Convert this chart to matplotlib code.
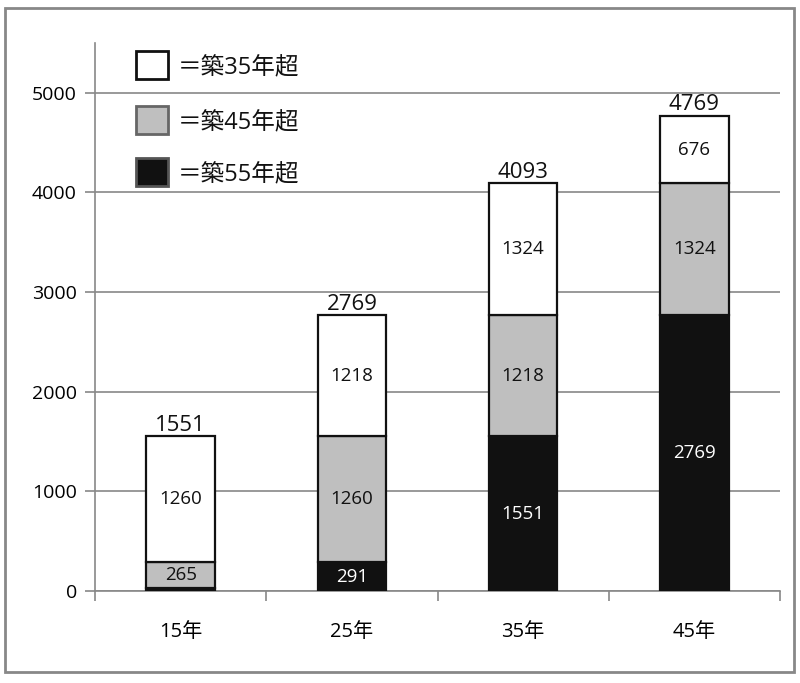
import matplotlib
matplotlib.use("Agg")
import matplotlib.pyplot as plt
from matplotlib.patches import Rectangle

plt.rcParams['font.family'] = ['Open Sans', 'Noto Sans CJK JP', 'DejaVu Sans']

categories = ['15年', '25年', '35年', '45年']
over55 = [26, 291, 1551, 2769]
over45 = [265, 1260, 1218, 1324]
over35 = [1260, 1218, 1324, 676]
totals = [1551, 2769, 4093, 4769]
legend_labels = ['＝築35年超', '＝築45年超', '＝築55年超']
seg_labels55 = ['', '291', '1551', '2769']

fig = plt.figure(figsize=(8.0, 6.83), dpi=100)
ax = fig.add_axes([95/800, 1-591/683, 685/800, (591-43)/683])

x = list(range(len(categories)))
w = 0.4
lw = 1.6
ax.bar(x, over55, w, color='#111111', edgecolor='#111111', linewidth=lw, zorder=3)
b45 = [a for a in over55]
ax.bar(x, over45, w, bottom=b45, color='#bfbfbf', edgecolor='#111111', linewidth=lw, zorder=3)
b35 = [a + b for a, b in zip(over55, over45)]
ax.bar(x, over35, w, bottom=b35, color='white', edgecolor='#111111', linewidth=lw, zorder=3)

fs = 13.5
for i in x:
    if seg_labels55[i]:
        ax.text(i, over55[i] / 2, seg_labels55[i], ha='center', va='center', color='white', fontsize=fs, zorder=4)
    ax.text(i, b45[i] + over45[i] / 2, str(over45[i]), ha='center', va='center', color='#111111', fontsize=fs, zorder=4)
    ax.text(i, b35[i] + over35[i] / 2, str(over35[i]), ha='center', va='center', color='#111111', fontsize=fs, zorder=4)
    ax.text(i, totals[i] + 5, str(totals[i]), ha='center', va='bottom', color='#111111', fontsize=16, zorder=4)

ax.set_xlim(-0.5, len(categories) - 0.5)
ax.set_ylim(0, 5500)
ax.set_yticks([0, 1000, 2000, 3000, 4000, 5000])
ax.set_xticks(x)
ax.set_xticklabels(categories, fontsize=14.5)
ax.set_xticks([-0.5, 0.5, 1.5, 2.5, 3.5], minor=True)
ax.tick_params(axis='x', which='major', length=0, pad=22)
ax.tick_params(axis='x', which='minor', length=7, color='#888888', width=1.2)
ax.tick_params(axis='y', length=7, color='#888888', width=1.2, labelsize=14, pad=6)
for s in ['top', 'right']:
    ax.spines[s].set_visible(False)
for s in ['left', 'bottom']:
    ax.spines[s].set_color('#888888')
    ax.spines[s].set_linewidth(1.2)
ax.yaxis.grid(True, color='#888888', linewidth=1.2, zorder=0)
ax.set_axisbelow(True)

# legend
cols = ['white', '#bfbfbf', '#111111']
ecs = ['#111111', '#666666', '#555555']
ys = [65, 120, 172]
for lab, c, ec, yc in zip(legend_labels, cols, ecs, ys):
    fig.add_artist(Rectangle((136/800, 1-(yc+14)/683), 32/800, 28/683, transform=fig.transFigure,
                             facecolor=c, edgecolor=ec, linewidth=2, zorder=5))
    fig.text(178/800, 1-(yc+3)/683, lab, ha='left', va='center', fontsize=17, color='#111111', zorder=5)

# outer frame
fig.add_artist(Rectangle((5/800, 1-672/683), 789/800, 664/683, transform=fig.transFigure,
                         facecolor='none', edgecolor='#888888', linewidth=2))

fig.savefig('out.png', dpi=100)
